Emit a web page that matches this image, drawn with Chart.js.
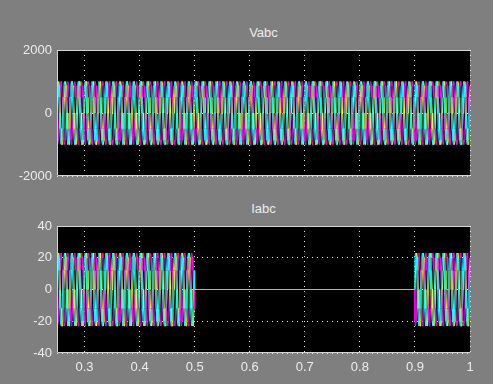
<!DOCTYPE html>
<html>
<head>
<meta charset="utf-8">
<script src="https://cdn.jsdelivr.net/npm/chart.js@4/dist/chart.umd.min.js"></script>
<style>
  html, body { margin: 0; padding: 0; background: #7f7f7f; }
  #wrap { position: relative; width: 493px; height: 384px; background: #7f7f7f; overflow: hidden; }
  .box { position: absolute; left: 0; width: 493px; }
  .ttl { position: absolute; width: 413px; left: 57px; text-align: center;
         font: 13px "Liberation Sans", Arial, sans-serif; color: #ececec; }
</style>
</head>
<body>
<div id="wrap">
  <div class="ttl" style="top:25px">Vabc</div>
  <div class="box" style="top:0;height:190px"><canvas id="vChart"></canvas></div>
  <div class="ttl" style="top:201px">Iabc</div>
  <div class="box" style="top:190px;height:194px"><canvas id="iChart"></canvas></div>
</div>
<script>
// ---- data ----
// time window of both scopes (s)
const timeRange = [0.25, 1.0];
const xTicks = [0.3, 0.4, 0.5, 0.6, 0.7, 0.8, 0.9, 1];
const xTickLabels = ['0.3', '0.4', '0.5', '0.6', '0.7', '0.8', '0.9', '1'];
const vTicks = [-2000, 0, 2000];
const vTickLabels = ['-2000', '0', '2000'];
const iTicks = [-40, -20, 0, 20, 40];
const iTickLabels = ['-40', '-20', '0', '20', '40'];

// one cycle of each phase, 12 samples; the waves are packed tight
// (about 8 cycles per 0.1 s on screen). Peak ~1000 V
const sampleStep = 0.0125 / 12;
const vaCycle = [0, 500, 866, 1000, 866, 500, 0, -500, -866, -1000, -866, -500];
const vbCycle = [-866, -1000, -866, -500, 0, 500, 866, 1000, 866, 500, 0, -500];
const vcCycle = [866, 1000, 866, 500, 0, -500, -866, -1000, -866, -500, 0, 500];
// current, peak ~23 A
const iaCycle = [0, 12, 20, 23, 20, 12, 0, -12, -20, -23, -20, -12];
const ibCycle = [-20, -23, -20, -12, 0, 12, 20, 23, 20, 12, 0, -12];
const icCycle = [20, 23, 20, 12, 0, -12, -20, -23, -20, -12, 0, 12];
// breaker open between these times -> current is zero
const iOffWindow = [0.5, 0.9];

// ---- build the point lists (cycle repeated over the window) ----
function buildSeries(cycle, offWindow) {
  const pts = [];
  const n = Math.floor((timeRange[1] - timeRange[0]) / sampleStep + 1e-9);
  let wasOff = false;
  for (let k = 0; k <= n; k++) {
    const t = timeRange[0] + k * sampleStep;
    const inOff = offWindow && t >= offWindow[0] - 1e-9 && t < offWindow[1] - 1e-9;
    if (inOff) {
      if (!wasOff) pts.push({ x: offWindow[0], y: 0 });
      wasOff = true;
      continue;
    }
    if (wasOff) {
      pts.push({ x: offWindow[1], y: 0 });
      wasOff = false;
    }
    pts.push({ x: t, y: cycle[k % cycle.length] });
  }
  return pts;
}

const PHASE_COLORS = ['#00ffff', '#ff00ff', '#ffff00'];  // drawn bottom-up: yellow, magenta, cyan on top
const TXT = '#ececec';
const FONT = { family: '"Liberation Sans", Arial, sans-serif', size: 13 };

// black plot area + light box edges
const scopeBg = {
  id: 'scopeBg',
  beforeDraw(chart) {
    const a = chart.chartArea, c = chart.ctx;
    c.save();
    c.fillStyle = '#000';
    c.fillRect(a.left, a.top, a.right - a.left, a.bottom - a.top);
    c.restore();
  },
  afterDraw(chart) {
    const a = chart.chartArea, c = chart.ctx;
    c.save();
    c.strokeStyle = '#d4d4d4';
    c.lineWidth = 1;
    c.beginPath();
    c.moveTo(a.right, a.top + 0.5); c.lineTo(a.left + 0.5, a.top + 0.5);
    c.lineTo(a.left + 0.5, a.bottom - 0.5); c.lineTo(a.right, a.bottom - 0.5);
    c.stroke();
    c.restore();
  }
};

function makeScope(id, cycles, yTicks, yLabels, yMax, showX, pad, offWindow) {
  const datasets = cycles.map((cyc, i) => ({
    data: buildSeries(cyc, offWindow),
    borderColor: PHASE_COLORS[i],
    borderWidth: 1,
    pointRadius: 0,
    fill: false,
    tension: 0
  }));
  return new Chart(document.getElementById(id), {
    type: 'line',
    data: { datasets: datasets },
    options: {
      responsive: true,
      maintainAspectRatio: false,
      animation: false,
      parsing: false,
      normalized: true,
      layout: { padding: pad },
      plugins: { legend: { display: false }, tooltip: { enabled: false } },
      scales: {
        x: {
          type: 'linear',
          min: timeRange[0],
          max: timeRange[1],
          afterBuildTicks: s => { s.ticks = xTicks.map(v => ({ value: v })); },
          afterFit: s => { s.height = showX ? 31 : 0; },
          ticks: {
            display: showX,
            color: TXT,
            font: FONT,
            padding: 7,
            maxRotation: 0,
            autoSkip: false,
            callback: (v, i) => xTickLabels[i]
          },
          grid: { color: '#e6e6e6', drawTicks: false, lineWidth: 1 },
          border: { display: false, dash: [1, 4] }
        },
        y: {
          type: 'linear',
          min: -yMax,
          max: yMax,
          afterBuildTicks: s => { s.ticks = yTicks.map(v => ({ value: v })); },
          afterFit: s => { s.width = 57; },
          ticks: { color: TXT, font: FONT, padding: 5, autoSkip: false,
                   callback: (v, i) => yLabels[i] },
          grid: { color: '#e6e6e6', drawTicks: false, lineWidth: 1 },
          border: { display: false, dash: [1, 4] }
        }
      }
    },
    plugins: [scopeBg]
  });
}

// datasets listed cyan first so cyan ends up on top
makeScope('vChart', [vcCycle, vbCycle, vaCycle], vTicks, vTickLabels, 2000, false,
  { top: 50, right: 23, bottom: 14, left: 0 }, null);
makeScope('iChart', [icCycle, ibCycle, iaCycle], iTicks, iTickLabels, 40, true,
  { top: 36, right: 23, bottom: 0, left: 0 }, iOffWindow);
</script>
</body>
</html>
